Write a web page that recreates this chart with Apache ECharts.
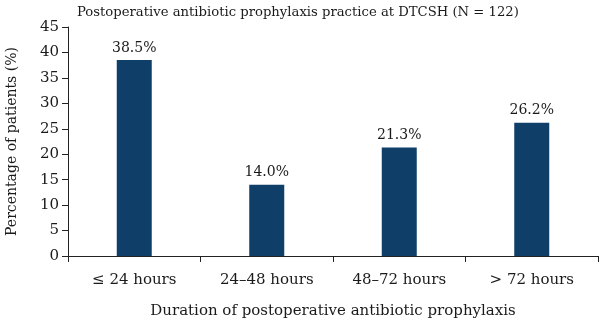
<!DOCTYPE html>
<html>
<head>
<meta charset="utf-8">
<script src="https://cdn.jsdelivr.net/npm/echarts@6/dist/echarts.min.js"></script>
<style>
  html, body { margin: 0; padding: 0; background: #fff; }
  #chart { width: 600px; height: 324px; }
</style>
</head>
<body>
<div id="chart"></div>
<script>
    // Данные графика
    const categories = ['\u2264 24 hours', '24\u201348 hours', '48\u201372 hours', '> 72 hours'];
    const percentages = [38.5, 14.0, 21.3, 26.2];
    const yTicks = { min: 0, max: 45, interval: 5 };

    const chart = echarts.init(document.getElementById('chart'));
    const font = 'DejaVu Serif';
    const textColor = '#1a1a1a';

    const option = {
        animation: false,
        title: {
            text: 'Postoperative antibiotic prophylaxis practice at DTCSH (N = 122)',
            left: 72,
            top: 1,
            textStyle: { fontFamily: font, fontSize: 13.2, fontWeight: 'normal', color: textColor }
        },
        grid: { left: 68, right: 2, top: 27, bottom: 68, outerBoundsMode: 'none', containLabel: false },
        xAxis: {
            type: 'category',
            data: categories,
            name: 'Duration of postoperative antibiotic prophylaxis',
            nameLocation: 'middle',
            nameGap: 48,
            nameTextStyle: { fontFamily: font, fontSize: 15, color: textColor },
            axisLine: { lineStyle: { color: '#222', width: 1 } },
            axisTick: { show: true, length: 6, lineStyle: { color: '#222' } },
            axisLabel: { fontFamily: font, fontSize: 15, color: textColor, margin: 17 }
        },
        yAxis: {
            type: 'value',
            min: yTicks.min,
            max: yTicks.max,
            interval: yTicks.interval,
            name: 'Percentage of patients (%)',
            nameLocation: 'middle',
            nameGap: 49,
            nameTextStyle: { fontFamily: font, fontSize: 14, color: textColor },
            axisLine: { show: true, lineStyle: { color: '#222', width: 1 } },
            axisTick: { show: true, length: 6, lineStyle: { color: '#222' } },
            axisLabel: { fontFamily: font, fontSize: 15, color: textColor, margin: 9 },
            splitLine: { show: false }
        },
        series: [
            {
                type: 'bar',
                data: percentages,
                barWidth: 35,
                itemStyle: { color: '#0f3f68' },
                label: {
                    show: true,
                    position: 'top',
                    distance: 5,
                    formatter: p => p.value.toFixed(1) + '%',
                    fontFamily: font,
                    fontSize: 14,
                    color: textColor
                }
            }
        ]
    };

    chart.setOption(option);
</script>
</body>
</html>
